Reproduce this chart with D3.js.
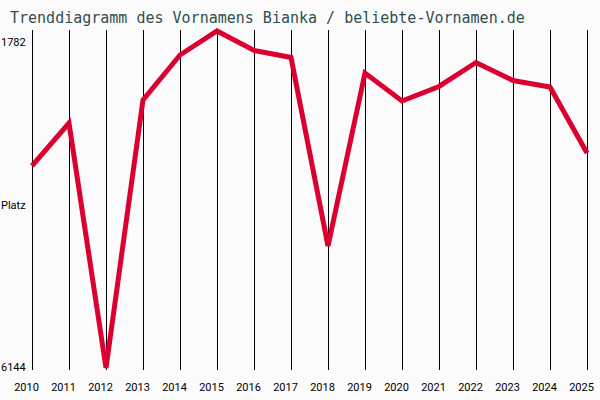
<!DOCTYPE html>
<html>
<head>
<meta charset="utf-8">
<script src="https://cdn.jsdelivr.net/npm/d3@7"></script>
<style>
  body { margin: 0; background: #fbfbfb; }
  text { font-family: "DejaVu Sans Mono", monospace; }
  .lbl { font-family: Roboto, sans-serif; font-size: 11px; }
</style>
</head>
<body>
<div id="chart"></div>
<script>
const years = [2010, 2011, 2012, 2013, 2014, 2015, 2016, 2017, 2018, 2019, 2020, 2021, 2022, 2023, 2024, 2025]
const ranks = [3529, 2973, 6144, 2675, 2093, 1782, 2034, 2125, 4564, 2326, 2688, 2500, 2190, 2423, 2507, 3361]
const yLabels = [1782, 6144]
const title = 'Trenddiagramm des Vornamens Bianka / beliebte-Vornamen.de'

const W = 600, H = 400
const TOP = 30, BOTTOM = 370

const svg = d3.select('#chart').append('svg')
    .attr('width', W)
    .attr('height', H)

svg.append('rect').attr('width', W).attr('height', H).attr('fill', '#fbfbfb')

const x = d3.scaleLinear()
    .domain([years[0], years[years.length - 1]])
    .range([32, 587])

// best rank on top
const y = d3.scaleLinear()
    .domain([yLabels[0], yLabels[1]])
    .range([31, 368])

// vertical grid + year labels (axis adds the half pixel itself)
const xAxis = d3.axisBottom(x)
    .tickValues(years)
    .tickFormat(d3.format('d'))
    .tickSize(-(BOTTOM - TOP))

const gx = svg.append('g')
    .attr('transform', `translate(0, ${BOTTOM})`)
    .call(xAxis)
gx.select('.domain').remove()
gx.selectAll('line').attr('stroke', '#000')
gx.selectAll('text')
    .attr('class', 'lbl')
    .attr('y', 21)
    .attr('dy', 0)
    .attr('dx', -6)
    .attr('fill', '#000')
gx.attr('font-family', null).attr('font-size', null)

// y labels
svg.append('text').attr('class', 'lbl').attr('x', 1).attr('y', y(yLabels[0]) + 15).text(yLabels[0])
svg.append('text').attr('class', 'lbl').attr('x', 1).attr('y', y(yLabels[1]) + 3).text(yLabels[1])
svg.append('text').attr('class', 'lbl').attr('x', 1).attr('y', 209).text('Platz')

// line
const line = d3.line()
    .x((d, i) => x(years[i]))
    .y(d => y(d))

svg.append('path')
    .datum(ranks)
    .attr('d', line)
    .attr('fill', 'none')
    .attr('stroke', '#dc0030')
    .attr('stroke-width', 5)
    .attr('stroke-linejoin', 'miter')

// title
svg.append('text')
    .attr('x', 10)
    .attr('y', 23)
    .attr('fill', '#2f4f4f')
    .style('font-size', '15px')
    .text(title)
</script>
</body>
</html>
